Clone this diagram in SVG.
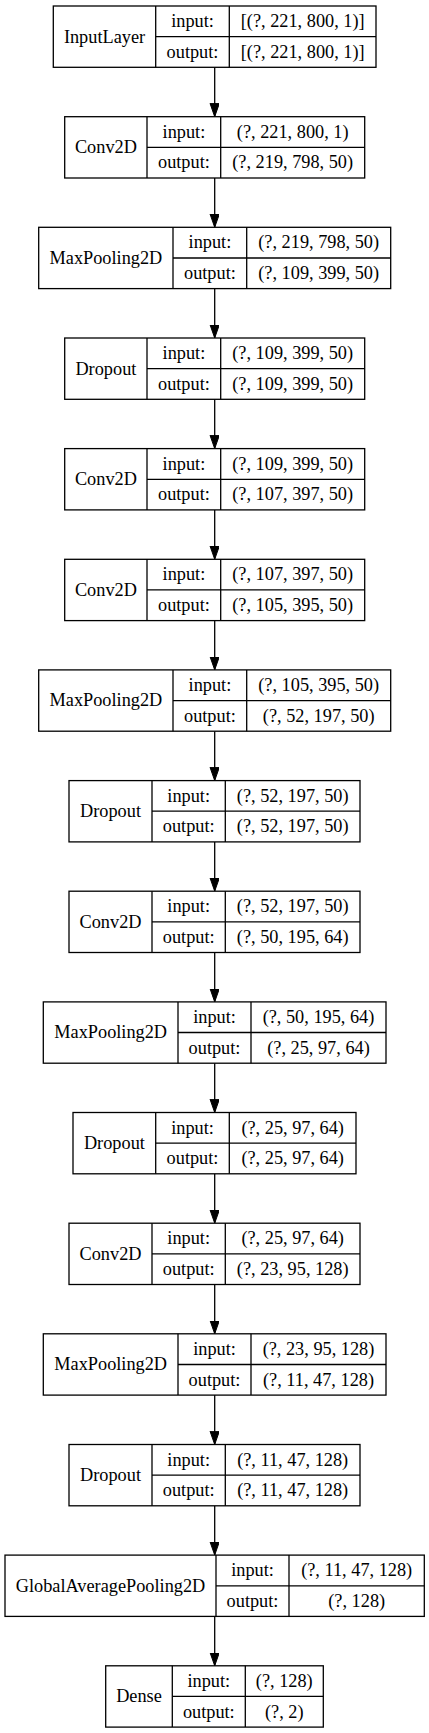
<svg xmlns="http://www.w3.org/2000/svg" width="429" height="1733" viewBox="0 0 429 1733" font-family="'Liberation Serif', 'Times New Roman', serif">
<style>
rect.box{fill:#fff;stroke:#000;stroke-width:1.3}
line.sep{stroke:#000;stroke-width:1.3}
text{font-family:'Liberation Serif','Times New Roman',Times,serif;font-size:18.3px;fill:#000;text-anchor:middle}
.edge line{stroke:#000;stroke-width:1.3}
</style>
<defs>
<marker id="ah" markerUnits="userSpaceOnUse" markerWidth="14" markerHeight="10" refX="13.3" refY="4.67" orient="auto"><path d="M0,0 L13.3,4.67 L0,9.33 Z" fill="#000" stroke="#000" stroke-width="1"/></marker>
</defs>
<rect width="429" height="1733" fill="#fff"/>
<g id="edges" class="edge">
<line x1="214.7" y1="67.3" x2="214.7" y2="116.7" marker-end="url(#ah)"/>
<line x1="214.7" y1="178.0" x2="214.7" y2="227.3" marker-end="url(#ah)"/>
<line x1="214.7" y1="288.6" x2="214.7" y2="338.0" marker-end="url(#ah)"/>
<line x1="214.7" y1="399.3" x2="214.7" y2="448.6" marker-end="url(#ah)"/>
<line x1="214.7" y1="509.9" x2="214.7" y2="559.3" marker-end="url(#ah)"/>
<line x1="214.7" y1="620.6" x2="214.7" y2="669.9" marker-end="url(#ah)"/>
<line x1="214.7" y1="731.2" x2="214.7" y2="780.6" marker-end="url(#ah)"/>
<line x1="214.7" y1="841.9" x2="214.7" y2="891.2" marker-end="url(#ah)"/>
<line x1="214.7" y1="952.5" x2="214.7" y2="1001.9" marker-end="url(#ah)"/>
<line x1="214.7" y1="1063.2" x2="214.7" y2="1112.5" marker-end="url(#ah)"/>
<line x1="214.7" y1="1173.8" x2="214.7" y2="1223.2" marker-end="url(#ah)"/>
<line x1="214.7" y1="1284.5" x2="214.7" y2="1333.8" marker-end="url(#ah)"/>
<line x1="214.7" y1="1395.1" x2="214.7" y2="1444.5" marker-end="url(#ah)"/>
<line x1="214.7" y1="1505.8" x2="214.7" y2="1555.1" marker-end="url(#ah)"/>
<line x1="214.7" y1="1616.4" x2="214.7" y2="1665.8" marker-end="url(#ah)"/>
</g>
<g id="n0"><rect class="box" x="53.3" y="6.0" width="322.7" height="61.3"/><line class="sep" x1="155.7" y1="6.0" x2="155.7" y2="67.3"/><line class="sep" x1="229.3" y1="6.0" x2="229.3" y2="67.3"/><line class="sep" x1="155.7" y1="36.7" x2="376" y2="36.7"/><text x="104.5" y="42.5">InputLayer</text><text x="192.5" y="27.0">input:</text><text x="192.5" y="57.7">output:</text><text x="302.7" y="27.0">[(?, 221, 800, 1)]</text><text x="302.7" y="57.7">[(?, 221, 800, 1)]</text></g>
<g id="n1"><rect class="box" x="64.7" y="116.7" width="300" height="61.3"/><line class="sep" x1="147" y1="116.7" x2="147" y2="178.0"/><line class="sep" x1="220.7" y1="116.7" x2="220.7" y2="178.0"/><line class="sep" x1="147" y1="147.3" x2="364.7" y2="147.3"/><text x="105.9" y="153.2">Conv2D</text><text x="183.9" y="137.7">input:</text><text x="183.9" y="168.4">output:</text><text x="292.7" y="137.7">(?, 221, 800, 1)</text><text x="292.7" y="168.4">(?, 219, 798, 50)</text></g>
<g id="n2"><rect class="box" x="38.7" y="227.3" width="352" height="61.3"/><line class="sep" x1="173" y1="227.3" x2="173" y2="288.6"/><line class="sep" x1="246.7" y1="227.3" x2="246.7" y2="288.6"/><line class="sep" x1="173" y1="258.0" x2="390.7" y2="258.0"/><text x="105.9" y="263.8">MaxPooling2D</text><text x="209.9" y="248.3">input:</text><text x="209.9" y="279.0">output:</text><text x="318.7" y="248.3">(?, 219, 798, 50)</text><text x="318.7" y="279.0">(?, 109, 399, 50)</text></g>
<g id="n3"><rect class="box" x="64.7" y="338.0" width="300" height="61.3"/><line class="sep" x1="147" y1="338.0" x2="147" y2="399.3"/><line class="sep" x1="220.7" y1="338.0" x2="220.7" y2="399.3"/><line class="sep" x1="147" y1="368.6" x2="364.7" y2="368.6"/><text x="105.9" y="374.5">Dropout</text><text x="183.9" y="359.0">input:</text><text x="183.9" y="389.7">output:</text><text x="292.7" y="359.0">(?, 109, 399, 50)</text><text x="292.7" y="389.7">(?, 109, 399, 50)</text></g>
<g id="n4"><rect class="box" x="64.7" y="448.6" width="300" height="61.3"/><line class="sep" x1="147" y1="448.6" x2="147" y2="509.9"/><line class="sep" x1="220.7" y1="448.6" x2="220.7" y2="509.9"/><line class="sep" x1="147" y1="479.3" x2="364.7" y2="479.3"/><text x="105.9" y="485.1">Conv2D</text><text x="183.9" y="469.6">input:</text><text x="183.9" y="500.3">output:</text><text x="292.7" y="469.6">(?, 109, 399, 50)</text><text x="292.7" y="500.3">(?, 107, 397, 50)</text></g>
<g id="n5"><rect class="box" x="64.7" y="559.3" width="300" height="61.3"/><line class="sep" x1="147" y1="559.3" x2="147" y2="620.6"/><line class="sep" x1="220.7" y1="559.3" x2="220.7" y2="620.6"/><line class="sep" x1="147" y1="589.9" x2="364.7" y2="589.9"/><text x="105.9" y="595.8">Conv2D</text><text x="183.9" y="580.3">input:</text><text x="183.9" y="611.0">output:</text><text x="292.7" y="580.3">(?, 107, 397, 50)</text><text x="292.7" y="611.0">(?, 105, 395, 50)</text></g>
<g id="n6"><rect class="box" x="38.7" y="669.9" width="352" height="61.3"/><line class="sep" x1="173" y1="669.9" x2="173" y2="731.2"/><line class="sep" x1="246.7" y1="669.9" x2="246.7" y2="731.2"/><line class="sep" x1="173" y1="700.6" x2="390.7" y2="700.6"/><text x="105.9" y="706.4">MaxPooling2D</text><text x="209.9" y="690.9">input:</text><text x="209.9" y="721.6">output:</text><text x="318.7" y="690.9">(?, 105, 395, 50)</text><text x="318.7" y="721.6">(?, 52, 197, 50)</text></g>
<g id="n7"><rect class="box" x="69" y="780.6" width="291" height="61.3"/><line class="sep" x1="152" y1="780.6" x2="152" y2="841.9"/><line class="sep" x1="225.3" y1="780.6" x2="225.3" y2="841.9"/><line class="sep" x1="152" y1="811.2" x2="360" y2="811.2"/><text x="110.5" y="817.1">Dropout</text><text x="188.7" y="801.6">input:</text><text x="188.7" y="832.3">output:</text><text x="292.7" y="801.6">(?, 52, 197, 50)</text><text x="292.7" y="832.3">(?, 52, 197, 50)</text></g>
<g id="n8"><rect class="box" x="69" y="891.2" width="291" height="61.3"/><line class="sep" x1="152" y1="891.2" x2="152" y2="952.5"/><line class="sep" x1="225.3" y1="891.2" x2="225.3" y2="952.5"/><line class="sep" x1="152" y1="921.9" x2="360" y2="921.9"/><text x="110.5" y="927.7">Conv2D</text><text x="188.7" y="912.2">input:</text><text x="188.7" y="942.9">output:</text><text x="292.7" y="912.2">(?, 52, 197, 50)</text><text x="292.7" y="942.9">(?, 50, 195, 64)</text></g>
<g id="n9"><rect class="box" x="43.3" y="1001.9" width="342.7" height="61.3"/><line class="sep" x1="178" y1="1001.9" x2="178" y2="1063.2"/><line class="sep" x1="251" y1="1001.9" x2="251" y2="1063.2"/><line class="sep" x1="178" y1="1032.5" x2="386" y2="1032.5"/><text x="110.7" y="1038.4">MaxPooling2D</text><text x="214.5" y="1022.9">input:</text><text x="214.5" y="1053.6">output:</text><text x="318.5" y="1022.9">(?, 50, 195, 64)</text><text x="318.5" y="1053.6">(?, 25, 97, 64)</text></g>
<g id="n10"><rect class="box" x="73" y="1112.5" width="283" height="61.3"/><line class="sep" x1="155.7" y1="1112.5" x2="155.7" y2="1173.8"/><line class="sep" x1="229.3" y1="1112.5" x2="229.3" y2="1173.8"/><line class="sep" x1="155.7" y1="1143.2" x2="356" y2="1143.2"/><text x="114.4" y="1149.0">Dropout</text><text x="192.5" y="1133.5">input:</text><text x="192.5" y="1164.2">output:</text><text x="292.7" y="1133.5">(?, 25, 97, 64)</text><text x="292.7" y="1164.2">(?, 25, 97, 64)</text></g>
<g id="n11"><rect class="box" x="69" y="1223.2" width="291" height="61.3"/><line class="sep" x1="152" y1="1223.2" x2="152" y2="1284.5"/><line class="sep" x1="225.3" y1="1223.2" x2="225.3" y2="1284.5"/><line class="sep" x1="152" y1="1253.8" x2="360" y2="1253.8"/><text x="110.5" y="1259.7">Conv2D</text><text x="188.7" y="1244.2">input:</text><text x="188.7" y="1274.9">output:</text><text x="292.7" y="1244.2">(?, 25, 97, 64)</text><text x="292.7" y="1274.9">(?, 23, 95, 128)</text></g>
<g id="n12"><rect class="box" x="43.3" y="1333.8" width="342.7" height="61.3"/><line class="sep" x1="178" y1="1333.8" x2="178" y2="1395.1"/><line class="sep" x1="251" y1="1333.8" x2="251" y2="1395.1"/><line class="sep" x1="178" y1="1364.5" x2="386" y2="1364.5"/><text x="110.7" y="1370.3">MaxPooling2D</text><text x="214.5" y="1354.8">input:</text><text x="214.5" y="1385.5">output:</text><text x="318.5" y="1354.8">(?, 23, 95, 128)</text><text x="318.5" y="1385.5">(?, 11, 47, 128)</text></g>
<g id="n13"><rect class="box" x="69" y="1444.5" width="291" height="61.3"/><line class="sep" x1="152" y1="1444.5" x2="152" y2="1505.8"/><line class="sep" x1="225.3" y1="1444.5" x2="225.3" y2="1505.8"/><line class="sep" x1="152" y1="1475.1" x2="360" y2="1475.1"/><text x="110.5" y="1481.0">Dropout</text><text x="188.7" y="1465.5">input:</text><text x="188.7" y="1496.2">output:</text><text x="292.7" y="1465.5">(?, 11, 47, 128)</text><text x="292.7" y="1496.2">(?, 11, 47, 128)</text></g>
<g id="n14"><rect class="box" x="5" y="1555.1" width="419.3" height="61.3"/><line class="sep" x1="216" y1="1555.1" x2="216" y2="1616.4"/><line class="sep" x1="289" y1="1555.1" x2="289" y2="1616.4"/><line class="sep" x1="216" y1="1585.8" x2="424.3" y2="1585.8"/><text x="110.5" y="1591.6">GlobalAveragePooling2D</text><text x="252.5" y="1576.1">input:</text><text x="252.5" y="1606.8">output:</text><text x="356.7" y="1576.1">(?, 11, 47, 128)</text><text x="356.7" y="1606.8">(?, 128)</text></g>
<g id="n15"><rect class="box" x="105.7" y="1665.8" width="217.6" height="61.3"/><line class="sep" x1="172.3" y1="1665.8" x2="172.3" y2="1727.1"/><line class="sep" x1="245.3" y1="1665.8" x2="245.3" y2="1727.1"/><line class="sep" x1="172.3" y1="1696.4" x2="323.3" y2="1696.4"/><text x="139" y="1702.3">Dense</text><text x="208.8" y="1686.8">input:</text><text x="208.8" y="1717.5">output:</text><text x="284.3" y="1686.8">(?, 128)</text><text x="284.3" y="1717.5">(?, 2)</text></g>
</svg>
